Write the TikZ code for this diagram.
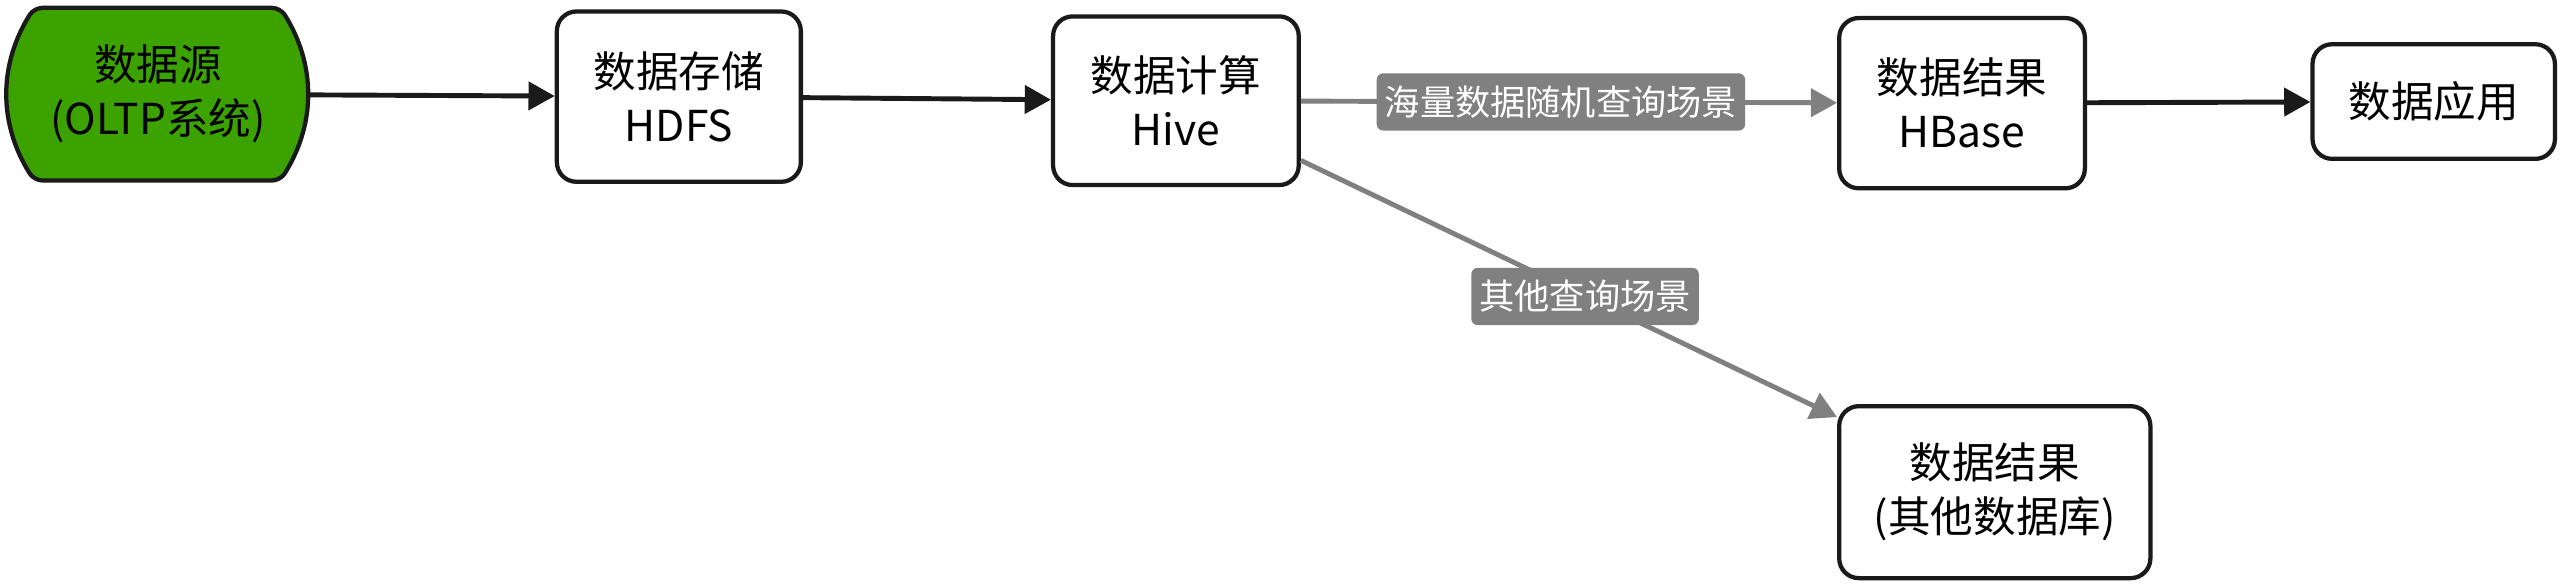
\documentclass[tikz,border=0pt]{standalone}
\usepackage{fontspec}
\setmainfont{Noto Sans CJK SC}
\usetikzlibrary{positioning}
\usetikzlibrary{arrows.meta}
\usetikzlibrary{backgrounds}
\definecolor{src-green}{HTML}{3CA200}
\definecolor{edge-gray}{HTML}{808080}
\definecolor{line-black}{HTML}{1A1A1A}

\begin{document}
\begin{tikzpicture}[x=1pt, y=-1pt, font=\fontsize{26}{33}\selectfont,
  >={Triangle[length=16pt,width=17pt]},
  box/.style={draw=line-black, line width=2.6pt, rounded corners=12pt, fill=white, align=center, inner sep=0pt, minimum width=149pt, minimum height=104pt},
  tag/.style={fill=edge-gray, text=white, rounded corners=4pt, font=\fontsize{21.5}{26}\selectfont, inner xsep=5pt, minimum height=35pt},
  flow/.style={draw=line-black, line width=3pt},
  query/.style={draw=edge-gray, line width=3pt}]
\useasboundingbox (0,0) rectangle (1568,359);
\node[align=center, inner sep=0pt, minimum width=183pt, minimum height=105pt]
  (source)
  at (96.5, 57.5)
  {数据源\\(OLTP系统)};
\begin{scope}[on background layer]
  \draw[line-black, line width=2.6pt, fill=src-green, rounded corners=5pt]
    ([xshift=16pt]source.north west) to[bend right=32] ([xshift=16pt]source.south west)
    -- ([xshift=-17pt]source.south east) to[bend right=32] ([xshift=-17pt]source.north east) -- cycle;
\end{scope}
\node[box]
  (hdfs)
  at (414.5, 59)
  {数据存储\\HDFS}
  edge[flow, <-] (source);
\node[box, minimum width=150pt, minimum height=103pt]
  (hive)
  at (718, 61.5)
  {数据计算\\Hive}
  edge[flow, <-] (hdfs);
\node[box, minimum width=150pt]
  (hbase)
  at (1198, 63)
  {数据结果\\HBase}
  edge[query, <-] node[tag, pos=.515] {海量数据随机查询场景} (hive);
\node[box, minimum width=148pt, minimum height=70pt]
  (app)
  at (1486, 62)
  {数据应用}
  edge[flow, <-] (hbase);
\node[box, minimum width=190pt, minimum height=105pt]
  (otherdb)
  at (1218, 300.5)
  {数据结果\\(其他数据库)}
  edge[query, <-] node[tag, pos=.47] {其他查询场景} (hive);
\end{tikzpicture}
\end{document}
